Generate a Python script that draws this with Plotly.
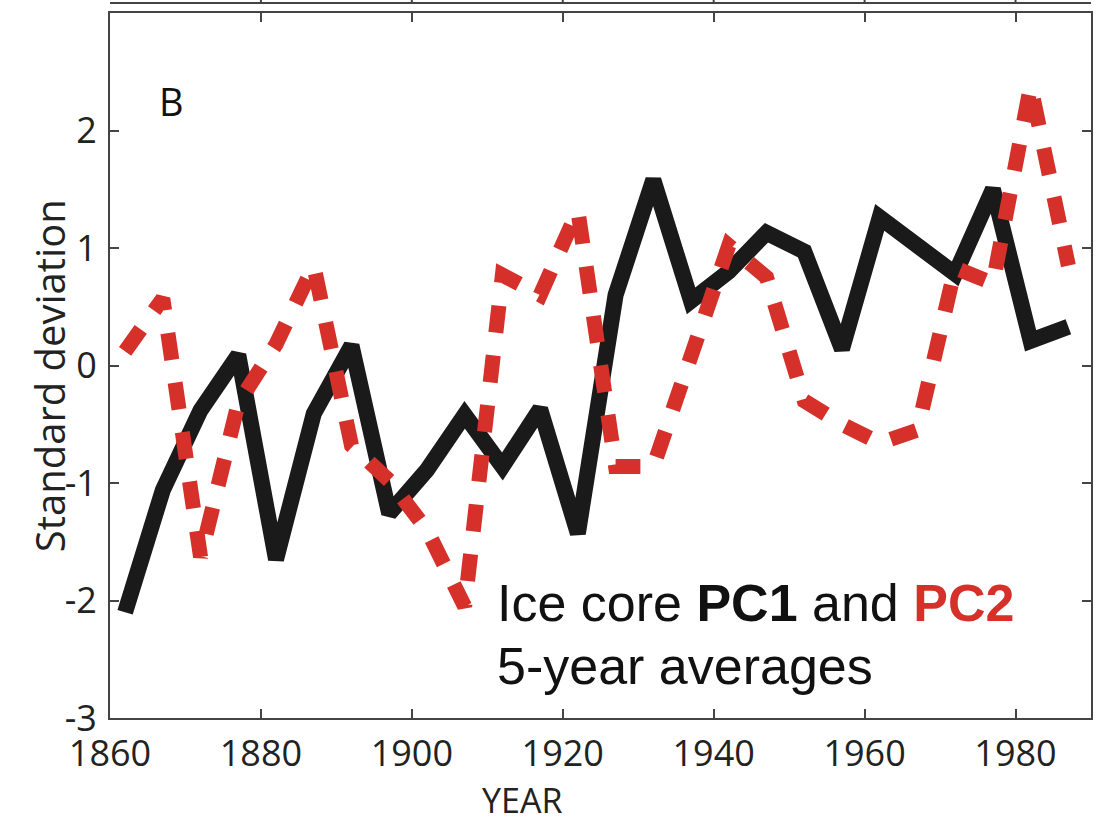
import plotly.graph_objects as go

years = [1862, 1867, 1872, 1877, 1882, 1887, 1892, 1897, 1902, 1907, 1912, 1917, 1922,
         1927, 1932, 1937, 1942, 1947, 1952, 1957, 1962, 1967, 1972, 1977, 1982, 1987]
pc1 = [-2.10, -1.06, -0.38, 0.09, -1.65, -0.41, 0.17, -1.26, -0.89, -0.42, -0.86, -0.37, -1.43,
       0.60, 1.58, 0.55, 0.80, 1.13, 0.97, 0.14, 1.26, 1.00, 0.78, 1.50, 0.21, 0.33]
pc2 = [0.12, 0.57, -1.63, -0.32, 0.18, 0.85, -0.68, -0.98, -1.40, -2.05, 0.77, 0.60, 1.32,
       -0.86, -0.86, 0.05, 1.02, 0.75, -0.30, -0.50, -0.66, -0.55, 0.83, 0.70, 2.38, 0.85]

x_ticks = [1860, 1880, 1900, 1920, 1940, 1960, 1980]
x_labels = ["1860", "1880", "1900", "1920", "1940", "1960", "1980"]
y_ticks = [-3, -2, -1, 0, 1, 2]
y_labels = ["-3", "-2", "-1", "0", "1", "2"]

RED = "#d6302a"
BLACK = "#1a1a1a"
AXC = "#444444"
TICKFONT = dict(family="Open Sans", size=36, color="#222222")

fig = go.Figure()
fig.add_trace(go.Scatter(x=years, y=pc1, mode="lines",
                         line=dict(color=BLACK, width=16), showlegend=False))
fig.add_trace(go.Scatter(x=years, y=pc2, mode="lines",
                         line=dict(color=RED, width=15, dash="27px,23px"), showlegend=False))

fig.update_xaxes(range=[1860, 1990], tickvals=x_ticks, ticktext=x_labels, ticks="inside", ticklen=9,
                 tickcolor=AXC, tickwidth=2, showline=True, linecolor=AXC, linewidth=2,
                 mirror="ticks", showgrid=False, zeroline=False, tickfont=TICKFONT,
                 ticklabelstandoff=3)
fig.update_yaxes(range=[-3, 3], tickvals=y_ticks, ticktext=y_labels, ticks="inside", ticklen=9,
                 tickcolor=AXC, tickwidth=2, showline=True, linecolor=AXC, linewidth=2,
                 mirror="ticks", showgrid=False, zeroline=False, tickfont=TICKFONT,
                 ticklabelstandoff=4)

# fragment of the upper panel's frame
fig.add_shape(type="line", xref="paper", yref="paper", x0=0, x1=1, y0=1.0142, y1=1.0142,
              line=dict(color=AXC, width=2))
for t in x_ticks[1:]:
    fig.add_shape(type="line", xref="x", yref="paper", x0=t, x1=t, y0=1.0142, y1=1.03,
                  line=dict(color=AXC, width=2))

fig.add_annotation(text="B", xref="paper", yref="paper", x=0.063, y=0.875,
                   xanchor="center", yanchor="middle",
                   showarrow=False, font=dict(family="Open Sans", size=38, color="#111111"))
fig.add_annotation(text="Ice core <b>PC1</b> and <b><span style='color:%s'>PC2</span></b>" % RED,
                   xref="paper", yref="paper", x=0.392, y=(718 - 603) / 706,
                   xanchor="left", yanchor="middle", showarrow=False,
                   font=dict(family="Liberation Sans", size=52, color="#111111"))
fig.add_annotation(text="5-year averages",
                   xref="paper", yref="paper", x=0.392, y=(718 - 666) / 706,
                   xanchor="left", yanchor="middle", showarrow=False,
                   font=dict(family="Liberation Sans", size=52, color="#111111"))
fig.add_annotation(text="Standard deviation", xref="paper", yref="paper", x=-0.062, y=0.485,
                   xanchor="center", yanchor="middle",
                   textangle=-90, showarrow=False,
                   font=dict(family="Open Sans", size=40, color="#222222"))
fig.add_annotation(text="YEAR", xref="paper", yref="paper", x=(523 - 110) / 983, y=(718 - 800) / 706,
                   xanchor="center", yanchor="middle",
                   showarrow=False, font=dict(family="Open Sans", size=34, color="#222222"))

fig.update_layout(width=1104, height=826, margin=dict(l=110, r=11, t=12, b=108),
                  paper_bgcolor="white", plot_bgcolor="white")
fig.write_html("out.html")
